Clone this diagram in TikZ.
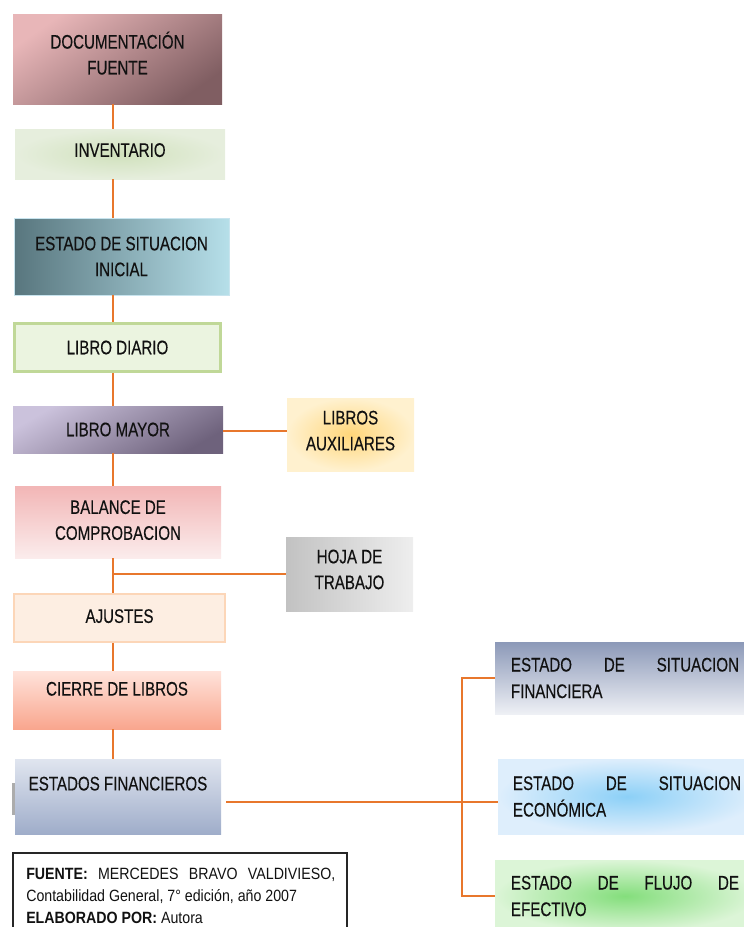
\documentclass[tikz,border=0pt]{standalone}
\usepackage{fontspec}
\setmainfont{Liberation Sans}[FakeStretch=0.77,FakeBold=0.3]
\newfontfamily\fuentefont{Liberation Sans}[FakeStretch=0.87]
\usepackage{tikz}
\usetikzlibrary{calc,positioning}

\newcommand{\pxu}{0.0265cm}

\definecolor{naranja}{HTML}{E8772C}
\definecolor{tinta}{HTML}{111111}

\tikzset{
  paso/.style={inner sep=0pt, align=center, text=tinta,
    font=\fontsize{14.8}{19.5}\selectfont},
  lateral/.style={inner sep=0pt, align=justify, text=tinta,
    text width=228*\pxu, font=\fontsize{14.8}{20}\selectfont},
  linea/.style={draw=naranja, line width=1.4pt},
}

\begin{document}
\begin{tikzpicture}[x=0.0265cm,y=-0.0265cm]
\useasboundingbox (0,0) rectangle (744,927);

% columna principal
\node[paso, minimum width=209*\pxu, minimum height=90*\pxu, text depth=9pt,
  top color={rgb,255:red,232;green,182;blue,184}, middle color={rgb,255:red,222;green,172;blue,174},
  bottom color={rgb,255:red,128;green,94;blue,98}, shading angle=35] (doc) at (117.5,59) {DOCUMENTACIÓN\\FUENTE};
\node[paso, minimum width=210*\pxu, minimum height=50*\pxu, text depth=6pt,
  inner color={rgb,255:red,208;green,225;blue,188}, outer color={rgb,255:red,230;green,238;blue,221}] (inv) at (120,154) {INVENTARIO};
\node[paso, minimum width=215*\pxu, minimum height=77*\pxu, draw={rgb,255:red,200;green,228;blue,238},
  left color={rgb,255:red,88;green,118;blue,126}, right color={rgb,255:red,182;green,223;blue,233}] (ini) at (121.5,256.5) {ESTADO DE SITUACION\\INICIAL};
\node[paso, minimum width=206*\pxu, minimum height=48*\pxu, line width=2.4pt,
  draw={rgb,255:red,192;green,216;blue,152}, fill={rgb,255:red,235;green,244;blue,224}] (diario) at (117.5,347.5) {LIBRO DIARIO};
\node[paso, minimum width=210*\pxu, minimum height=47*\pxu,
  top color={rgb,255:red,203;green,194;blue,220}, middle color={rgb,255:red,188;green,178;blue,204},
  bottom color={rgb,255:red,110;green,98;blue,124}, shading angle=30] (mayor) at (118,429.5) {LIBRO MAYOR};
\node[paso, minimum width=206*\pxu, minimum height=72*\pxu, text depth=3pt,
  top color={rgb,255:red,242;green,182;blue,182}, bottom color={rgb,255:red,251;green,236;blue,236}] (balance) at (118,522) {BALANCE DE\\COMPROBACION};
\node[paso, minimum width=211*\pxu, minimum height=48*\pxu, line width=2pt, text depth=3pt,
  draw={rgb,255:red,252;green,214;blue,184}, fill={rgb,255:red,253;green,238;blue,226}] (ajustes) at (119.5,618) {AJUSTES};
\node[paso, minimum width=208*\pxu, minimum height=58*\pxu, text depth=17pt,
  top color={rgb,255:red,255;green,227;blue,219}, bottom color={rgb,255:red,249;green,166;blue,142}] (cierre) at (117,700) {CIERRE DE LIBROS};
\node[paso, minimum width=206*\pxu, minimum height=75*\pxu,
  top color={rgb,255:red,224;green,229;blue,239}, bottom color={rgb,255:red,159;green,173;blue,202}] (ef) at (118,796.5) {ESTADOS FINANCIEROS\\~};
\fill[gray!65] (12,783) rectangle (15,815);

% cajas laterales
\node[paso, minimum width=127*\pxu, minimum height=73*\pxu, text depth=6pt,
  inner color={rgb,255:red,255;green,214;blue,122}, outer color={rgb,255:red,255;green,241;blue,207}] (aux) at (350.5,434.5) {LIBROS\\AUXILIARES};
\node[paso, minimum width=127*\pxu, minimum height=74*\pxu, text depth=7pt,
  left color={rgb,255:red,194;green,194;blue,194}, right color={rgb,255:red,238;green,238;blue,238}] (hoja) at (349.5,574) {HOJA DE\\TRABAJO};

% estados financieros
\node[lateral, minimum width=260*\pxu, minimum height=72*\pxu,
  top color={rgb,255:red,140;green,153;blue,184}, bottom color={rgb,255:red,238;green,240;blue,245}] (fin) at (625,678) {ESTADO DE SITUACION\linebreak FINANCIERA};
\node[lateral, minimum width=258*\pxu, minimum height=75*\pxu,
  inner color={rgb,255:red,140;green,208;blue,247}, outer color={rgb,255:red,222;green,238;blue,252}] (eco) at (627,796.5) {ESTADO DE SITUACION\linebreak ECONÓMICA};
\node[lateral, minimum width=260*\pxu, minimum height=72*\pxu,
  inner color={rgb,255:red,132;green,222;blue,124}, outer color={rgb,255:red,220;green,245;blue,215}] (flujo) at (625,896) {ESTADO DE FLUJO DE\linebreak EFECTIVO};

% fuente
\draw[line width=1.1pt, draw=black!85] (13,853) rectangle (347,945);
\node[anchor=north west, inner sep=0pt, align=justify, text width=309*\pxu, text=tinta,
  font=\fuentefont\fontsize{12.3}{16.5}\selectfont] (fuente) at (26,868)
  {\textbf{FUENTE:} MERCEDES BRAVO VALDIVIESO,\linebreak Contabilidad General, 7° edición, año 2007\\
   \textbf{ELABORADO POR:} Autora};

% conectores
\coordinate (eje) at (113,0);
\coordinate (bus) at (462,0);
\draw[linea] (doc.south -| eje) -- (inv.north -| eje);
\draw[linea] (inv.south -| eje) -- (ini.north -| eje);
\draw[linea] (ini.south -| eje) -- (diario.north -| eje);
\draw[linea] (diario.south -| eje) -- (mayor.north -| eje);
\draw[linea] (mayor.south -| eje) -- (balance.north -| eje);
\draw[linea] (balance.south -| eje) -- (ajustes.north -| eje);
\draw[linea] (ajustes.south -| eje) -- (cierre.north -| eje);
\draw[linea] (cierre.south -| eje) -- (ef.north -| eje);
\draw[linea] ($(mayor.east)+(0,1.5)$) -- ($(mayor.east -| aux.west)+(0,1.5)$);
\draw[linea] (hoja.west) -- (hoja.west -| eje);
\draw[linea] ($(ef.east)+(5,5.5)$) -- ($(ef.east -| eco.west)+(0,5.5)$);
\draw[linea] (fin.west) -- (fin.west -| bus) -- (flujo.west -| bus) -- (flujo.west);
\end{tikzpicture}
\end{document}
